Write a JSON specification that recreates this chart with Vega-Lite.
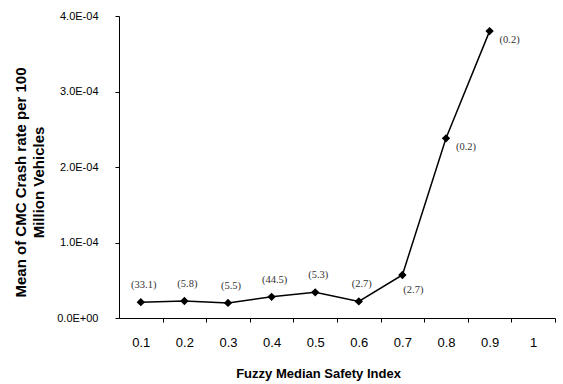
{
  "$schema": "https://vega.github.io/schema/vega-lite/v6.json",
  "width": 436,
  "height": 302,
  "autosize": {"type": "none"},
  "padding": {"left": 119, "top": 16, "right": 8, "bottom": 66},
  "background": "white",
  "config": {
    "view": {"stroke": null},
    "axis": {"grid": false, "domainColor": "black", "tickColor": "black", "labelColor": "black", "titleColor": "black", "labelFont": "Liberation Sans", "titleFont": "Liberation Sans"}
  },
  "data": {
    "values": [
      {"x": 0.1, "y": 0.000021, "label": "(33.1)"},
      {"x": 0.2, "y": 0.0000225, "label": "(5.8)"},
      {"x": 0.3, "y": 0.00002, "label": "(5.5)"},
      {"x": 0.4, "y": 0.000028, "label": "(44.5)"},
      {"x": 0.5, "y": 0.000034, "label": "(5.3)"},
      {"x": 0.6, "y": 0.000022, "label": "(2.7)"},
      {"x": 0.7, "y": 0.000057, "label": "(2.7)"},
      {"x": 0.8, "y": 0.000238, "label": "(0.2)"},
      {"x": 0.9, "y": 0.00038, "label": "(0.2)"}
    ]
  },
  "encoding": {
    "x": {
      "field": "x", "type": "quantitative",
      "scale": {"domain": [0.05, 1.05], "nice": false, "zero": false},
      "axis": {
        "values": [0.1, 0.2, 0.3, 0.4, 0.5, 0.6, 0.7, 0.8, 0.9, 1],
        "format": "~g",
        "tickOffset": 21.8,
        "labelOffset": -21.8,
        "tickSize": 4,
        "labelFontSize": 13,
        "labelPadding": 14,
        "title": "Fuzzy Median Safety Index",
        "titleFontSize": 13,
        "titleFontWeight": "bold",
        "titleX": 199,
        "titleY": 59,
        "titleBaseline": "alphabetic",
        "titleAnchor": null
      }
    },
    "y": {
      "field": "y", "type": "quantitative",
      "scale": {"domain": [0, 0.0004], "nice": false},
      "axis": {
        "values": [0, 0.0001, 0.0002, 0.0003, 0.0004],
        "labelExpr": "datum.value == 0 ? '0.0E+00' : format(datum.value*10000, '.1f') + 'E-04'",
        "tickSize": 4,
        "labelFontSize": 11,
        "labelPadding": 17,
        "title": ["Mean of CMC Crash rate per 100", "Million Vehicles"],
        "titleFontSize": 15,
        "titleFontWeight": "bold",
        "titleLineHeight": 18,
        "titleX": -91,
        "titleY": 166,
        "titleAngle": -90,
        "titleAlign": "center",
        "titleBaseline": "bottom",
        "titleAnchor": null
      }
    }
  },
  "layer": [
    {"mark": {"type": "line", "color": "black", "strokeWidth": 1.5}},
    {"mark": {"type": "point", "shape": "diamond", "filled": true, "color": "black", "size": 70, "opacity": 1}},
    {
      "transform": [{"filter": "datum.x < 0.65"}],
      "mark": {"type": "text", "font": "Liberation Serif", "fontSize": 10.5, "color": "#333", "dx": 3, "dy": -17, "baseline": "middle"},
      "encoding": {"text": {"field": "label"}}
    },
    {
      "transform": [{"filter": "datum.x > 0.65 && datum.x < 0.75"}],
      "mark": {"type": "text", "font": "Liberation Serif", "fontSize": 10.5, "color": "#333", "dx": 11, "dy": 15, "baseline": "middle"},
      "encoding": {"text": {"field": "label"}}
    },
    {
      "transform": [{"filter": "datum.x > 0.75"}],
      "mark": {"type": "text", "font": "Liberation Serif", "fontSize": 10.5, "color": "#333", "dx": 20, "dy": 9, "baseline": "middle"},
      "encoding": {"text": {"field": "label"}}
    }
  ]
}
